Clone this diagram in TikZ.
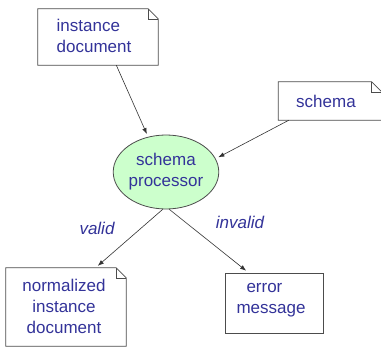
\documentclass[tikz,border=0pt]{standalone}
\usepackage{fontspec}
\setmainfont{Liberation Sans}
\usetikzlibrary{arrows.meta, shapes.geometric}

\definecolor{labelblue}{RGB}{51,51,153}
\definecolor{procgreen}{RGB}{204,255,204}

\tikzset{
	boxtext/.style={inner sep=0pt, text=labelblue, font=\fontsize{17}{21}\selectfont, align=center},
	boxline/.style={draw=black!70, line width=0.8pt, line join=miter},
	arr/.style={draw=black!80, line width=0.6pt, -{Latex[length=6pt,width=4.5pt]}, shorten >=3pt}
}

\newcommand{\docoutline}[1]{%
	\draw[boxline, fill=white] (#1.south west) -- (#1.north west) -- ([xshift=-10pt]#1.north east) -- ([yshift=-10pt]#1.north east) -- (#1.south east) -- cycle;
	\draw[boxline, line width=0.5pt] ([xshift=-10pt]#1.north east) -- ([xshift=-10pt,yshift=-10pt]#1.north east) -- ([yshift=-10pt]#1.north east);
}

\begin{document}
\begin{tikzpicture}[x=1pt, y=1pt]

	\useasboundingbox[fill=white] (0,0) rectangle (381,-348);

	\coordinate (I) at (98, -37);
	\coordinate (S) at (330, -101);
	\coordinate (P) at (166, -172);
	\coordinate (N) at (66, -307);
	\coordinate (E) at (274, -303);

	\node[boxtext, minimum width=120pt, minimum height=56pt] (inst) at (I) {};
	\node[boxtext, minimum width=103pt, minimum height=38pt] (schema) at (S) {};
	\node[boxtext, minimum width=120pt, minimum height=78pt] (norm) at (N) {};

	\docoutline{inst}
	\docoutline{schema}
	\docoutline{norm}

	\node[boxtext, align=left] at ([xshift=-4pt, yshift=1pt]I) {instance\\document};
	\node[boxtext] at ([xshift=-4pt]S) {schema};
	\node[boxtext] at ([xshift=-2pt, yshift=1pt]N) {normalized\\instance\\document};

	\node[boxtext, boxline, fill=white, minimum width=98pt, minimum height=60pt] (err) at (E) {};
	\node[boxtext, align=left] at ([xshift=-3pt, yshift=3pt]E) {\hspace*{10pt}error\\message};

	\node[boxtext, draw=black!70, line width=0.8pt, fill=procgreen, ellipse, minimum width=104pt, minimum height=74pt] (proc) at (P) {schema\\processor};

	\draw[arr] (inst.-57) -- (proc.117);
	\draw[arr] (schema.205) -- (proc.15);
	\draw[arr] (proc.265) -- (norm.53);
	\draw[arr] (proc.-85) -- (err.130);

	\node[boxtext, font=\fontsize{17}{21}\selectfont\itshape] (valid) at (97, -228) {valid};
	\node[boxtext, font=\fontsize{17}{21}\selectfont\itshape] (invalid) at (240, -222) {invalid};

\end{tikzpicture}
\end{document}
